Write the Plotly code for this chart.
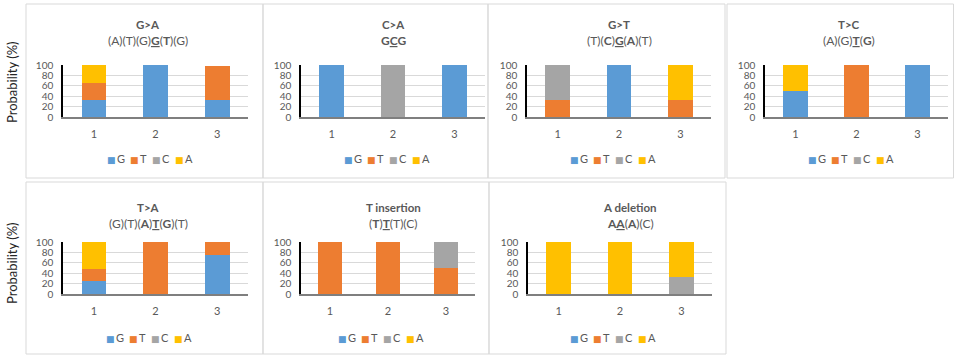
import plotly.graph_objects as go

W, H = 954, 355

# ---------------- data ----------------
positions = ["1", "2", "3"]
bases = ["G", "T", "C", "A"]
base_colors = ["#5B9BD5", "#ED7D31", "#A5A5A5", "#FFC000"]
panel_titles = ["G>A", "C>A", "G>T", "T>C", "T>A", "T insertion", "A deletion"]
panel_subtitles = [
    "(A)(T)(G)<b><u>G</u></b>(<b>T</b>)(G)",
    "<b>G<u>C</u>G</b>",
    "(T)(<b>C</b>)<b><u>G</u></b>(<b>A</b>)(T)",
    "(A)(G)<b><u>T</u></b>(<b>G</b>)",
    "(G)(T)(<b>A</b>)<b><u>T</u></b>(<b>G</b>)(T)",
    "(<b>T</b>)<b><u>T</u></b>(T)(C)",
    "<b>A<u>A</u></b>(<b>A</b>)(C)",
]
g_values = [[33, 100, 33], [100, 0, 100], [0, 100, 0], [50, 0, 100], [25, 0, 75], [0, 0, 0], [0, 0, 0]]
t_values = [[32, 0, 65], [0, 0, 0], [33, 0, 33], [0, 100, 0], [24, 100, 25], [100, 100, 50], [0, 0, 0]]
c_values = [[0, 0, 0], [0, 100, 0], [67, 0, 0], [0, 0, 0], [0, 0, 0], [0, 0, 50], [0, 0, 33]]
a_values = [[35, 0, 0], [0, 0, 0], [0, 0, 67], [50, 0, 0], [51, 0, 0], [0, 0, 0], [100, 100, 67]]
y_ticks = [0, 20, 40, 60, 80, 100]
y_title = "Probability (%)"

# ---------------- geometry (pixels) ----------------
plot_boxes = [(63, 248, 65, 117), (301, 485, 65, 117), (527, 711, 65, 117), (765, 948, 65, 117),
              (63, 248, 242, 294), (301, 475, 242, 294), (528, 712, 242, 294)]
panel_boxes = [(26, 263, 4, 178), (263, 488, 4, 178), (488, 725, 4, 178), (727, 953.5, 4, 178),
               (26, 263, 182, 354), (263, 489, 182, 354), (489, 726, 182, 354)]
title_pos = [(148, 24, 41), (393, 24, 41), (619, 24, 41), (849, 24, 41),
             (148, 207, 223), (393.5, 207, 223), (630, 207, 223)]
legend_pos = [(105, 158), (342, 158), (568, 158), (806, 158), (104, 337), (336, 337), (568, 337)]
ylabel_pos = [(12, 82), (12, 263)]

FONT = "Lato, 'DejaVu Sans', sans-serif"
GREY = "#595959"


def px(x):
    return x / W


def py(y):
    return 1 - y / H


series = [g_values, t_values, c_values, a_values]
fig = go.Figure()
layout = dict(
    width=W, height=H, margin=dict(l=0, r=0, t=0, b=0, autoexpand=False),
    paper_bgcolor="white", plot_bgcolor="white",
    barmode="stack", bargap=0.6, showlegend=False,
    font=dict(family=FONT, color=GREY, size=10),
)
annotations = []
shapes = []

for i in range(7):
    n = i + 1
    xa = "x" if n == 1 else f"x{n}"
    ya = "y" if n == 1 else f"y{n}"
    for b, vals, col in zip(bases, series, base_colors):
        fig.add_trace(go.Bar(x=positions, y=vals[i], name=b, marker=dict(color=col, line=dict(width=0)),
                             xaxis=xa, yaxis=ya, legendgroup=b))
    x0, x1, y0, y1 = plot_boxes[i]
    layout[f"xaxis{n}"] = dict(
        domain=[px(x0), px(x1)], anchor=ya, type="category", range=[-0.5, 2.5], automargin=False,
        showline=True, linecolor="#7F7F7F", linewidth=1.5, showgrid=False,
        ticks="", ticklabelstandoff=6, tickfont=dict(size=11, color=GREY), fixedrange=True,
    )
    layout[f"yaxis{n}"] = dict(
        domain=[py(y1), py(y0)], anchor=xa, range=[0, 100], tickvals=y_ticks, automargin=False,
        showline=True, linecolor="#000000", linewidth=1.5, showgrid=True,
        gridcolor="#D9D9D9", gridwidth=1, zeroline=False, ticks="", ticklabelstandoff=6,
        tickfont=dict(size=10, color=GREY), fixedrange=True,
    )
    bx0, bx1, by0, by1 = panel_boxes[i]
    shapes.append(dict(type="rect", xref="paper", yref="paper", x0=px(bx0), x1=px(bx1),
                       y0=py(by1), y1=py(by0), line=dict(color="#D9D9D9", width=1), layer="below"))
    tx, ty1, ty2 = title_pos[i]
    annotations.append(dict(text=f"<b>{panel_titles[i]}</b>", x=px(tx), y=py(ty1), xref="paper", yref="paper",
                            showarrow=False, xanchor="center", yanchor="middle",
                            font=dict(size=11.5, color=GREY, family=FONT)))
    annotations.append(dict(text=panel_subtitles[i], x=px(tx), y=py(ty2), xref="paper", yref="paper",
                            showarrow=False, xanchor="center", yanchor="middle",
                            font=dict(size=12, color=GREY, family=FONT)))
    lx, ly = legend_pos[i]
    for k, (b, col) in enumerate(zip(bases, base_colors)):
        annotations.append(dict(
            text=f'<span style="color:{col};font-size:9px">■</span>\u2009{b}',
            x=px(lx + k * 22.5), y=py(ly), xref="paper", yref="paper", showarrow=False,
            xanchor="left", yanchor="middle", font=dict(size=11, color=GREY, family=FONT)))

for (yx, yy) in ylabel_pos:
    annotations.append(dict(text=y_title, x=px(yx), y=py(yy), xref="paper", yref="paper", showarrow=False,
                            textangle=-90, xanchor="center", yanchor="middle",
                            font=dict(size=13, color="#262626", family=FONT)))

layout["annotations"] = annotations
layout["shapes"] = shapes
fig.update_layout(**layout)
fig.write_html("out.html", config={"displayModeBar": False},
               post_script="document.body.style.margin='0';document.body.style.overflow='hidden';")
